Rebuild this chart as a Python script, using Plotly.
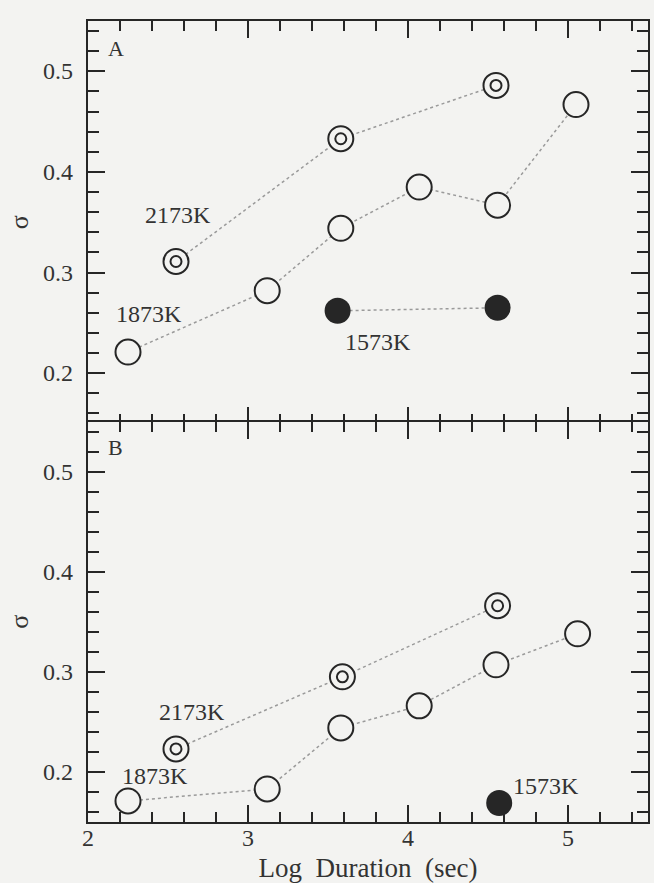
import plotly.graph_objects as go
from plotly.subplots import make_subplots

# Panel A: sigma vs log duration
a_2173_x = [2.55, 3.58, 4.55]
a_2173_y = [0.311, 0.433, 0.486]
a_1873_x = [2.25, 3.12, 3.58, 4.07, 4.56, 5.05]
a_1873_y = [0.221, 0.282, 0.344, 0.385, 0.367, 0.467]
a_1573_x = [3.56, 4.56]
a_1573_y = [0.262, 0.265]

# Panel B
b_2173_x = [2.55, 3.59, 4.56]
b_2173_y = [0.223, 0.295, 0.366]
b_1873_x = [2.25, 3.12, 3.58, 4.07, 4.55, 5.06]
b_1873_y = [0.171, 0.183, 0.244, 0.266, 0.307, 0.338]
b_1573_x = [4.57]
b_1573_y = [0.169]

x_ticks = [2, 3, 4, 5]
y_ticks = [0.2, 0.3, 0.4, 0.5]

BG = "#f3f3f1"
INK = "#262626"
TXT = "#333333"
DOT = "#9a9a9a"
FONT = "Liberation Serif"

W, H = 654, 883
MT, MB = 21, 61
plot_h = H - MT - MB

fig = make_subplots(rows=2, cols=1, shared_xaxes=True, vertical_spacing=0)


def add_series(row, x, y, kind):
    fig.add_trace(go.Scatter(x=x, y=y, mode="lines",
                             line=dict(color=DOT, width=1.5, dash="dot"),
                             hoverinfo="skip", showlegend=False), row=row, col=1)
    if kind == "filled":
        fig.add_trace(go.Scatter(x=x, y=y, mode="markers", cliponaxis=False,
                                 marker=dict(symbol="circle", size=26, color=INK,
                                             line=dict(width=0)),
                                 showlegend=False), row=row, col=1)
        return
    fig.add_trace(go.Scatter(x=x, y=y, mode="markers", cliponaxis=False,
                             marker=dict(symbol="circle", size=25, color=BG,
                                         line=dict(width=2, color=INK)),
                             showlegend=False), row=row, col=1)
    if kind == "double":
        fig.add_trace(go.Scatter(x=x, y=y, mode="markers", cliponaxis=False,
                                 marker=dict(symbol="circle", size=11, color=BG,
                                             line=dict(width=2, color=INK)),
                                 showlegend=False), row=row, col=1)


add_series(1, a_2173_x, a_2173_y, "double")
add_series(1, a_1873_x, a_1873_y, "open")
add_series(1, a_1573_x, a_1573_y, "filled")
add_series(2, b_2173_x, b_2173_y, "double")
add_series(2, b_1873_x, b_1873_y, "open")
add_series(2, b_1573_x, b_1573_y, "filled")

labels = [
    (1, "A", 2.175, 0.523, 22),
    (1, "2173K", 2.56, 0.357, 24),
    (1, "1873K", 2.38, 0.259, 24),
    (1, "1573K", 3.81, 0.231, 24),
    (2, "B", 2.17, 0.524, 22),
    (2, "2173K", 2.65, 0.260, 24),
    (2, "1873K", 2.42, 0.196, 24),
    (2, "1573K", 4.86, 0.186, 24),
]
for row, text, x, y, size in labels:
    sfx = "" if row == 1 else "2"
    fig.add_annotation(x=x, y=y, xref="x" + sfx, yref="y" + sfx, text=text,
                       showarrow=False, xanchor="center", yanchor="middle",
                       font=dict(family=FONT, size=size, color=TXT))

# serif tick labels, written next to the axes
tick_font = dict(family=FONT, size=24, color=TXT)
for v in x_ticks:
    fig.add_annotation(x=v, y=0, xref="x2", yref="paper", text=str(v),
                       showarrow=False, xanchor="center", yanchor="top",
                       yshift=-1, font=tick_font)
for sfx in ("", "2"):
    for v in y_ticks:
        fig.add_annotation(x=0, y=v, xref="paper", yref="y" + sfx,
                           text="%.1f" % v, showarrow=False,
                           xanchor="right", yanchor="middle", xshift=-13,
                           font=tick_font)

axis_common = dict(
    showline=True, linecolor=INK, linewidth=2, mirror="ticks",
    ticks="inside", ticklen=17, tickwidth=2, tickcolor=INK,
    showgrid=False, zeroline=False, showticklabels=False, automargin=False,
)

for r in (1, 2):
    fig.update_xaxes(
        range=[2, 5.5], tickmode="array", tickvals=x_ticks,
        minor=dict(dtick=0.2, tick0=2, ticks="inside", ticklen=10, tickwidth=2,
                   tickcolor=INK, showgrid=False),
        row=r, col=1, **axis_common)
    fig.update_yaxes(
        range=[0.15, 0.55], tickmode="array", tickvals=y_ticks,
        minor=dict(dtick=0.02, tick0=0, ticks="inside", ticklen=11, tickwidth=2,
                   tickcolor=INK, showgrid=False),
        title=dict(text="σ", font=dict(family=FONT, size=26, color=TXT), standoff=50),
        row=r, col=1, **axis_common)

# let the two frames share a single line at the panel boundary
overlap = 2.0 / plot_h
fig.update_yaxes(domain=[0.5 - overlap, 1.0], row=1, col=1)
fig.update_yaxes(domain=[0.0, 0.5], row=2, col=1)

fig.update_xaxes(
    title=dict(text="Log\u00a0\u00a0Duration\u00a0\u00a0(sec)",
               font=dict(family=FONT, size=27, color=TXT), standoff=36),
    row=2, col=1)

fig.update_layout(
    width=W, height=H,
    margin=dict(l=88, r=6, t=MT, b=MB),
    paper_bgcolor=BG, plot_bgcolor=BG,
    font=dict(family=FONT, color=TXT),
    showlegend=False,
)

fig.write_html("out.html")
